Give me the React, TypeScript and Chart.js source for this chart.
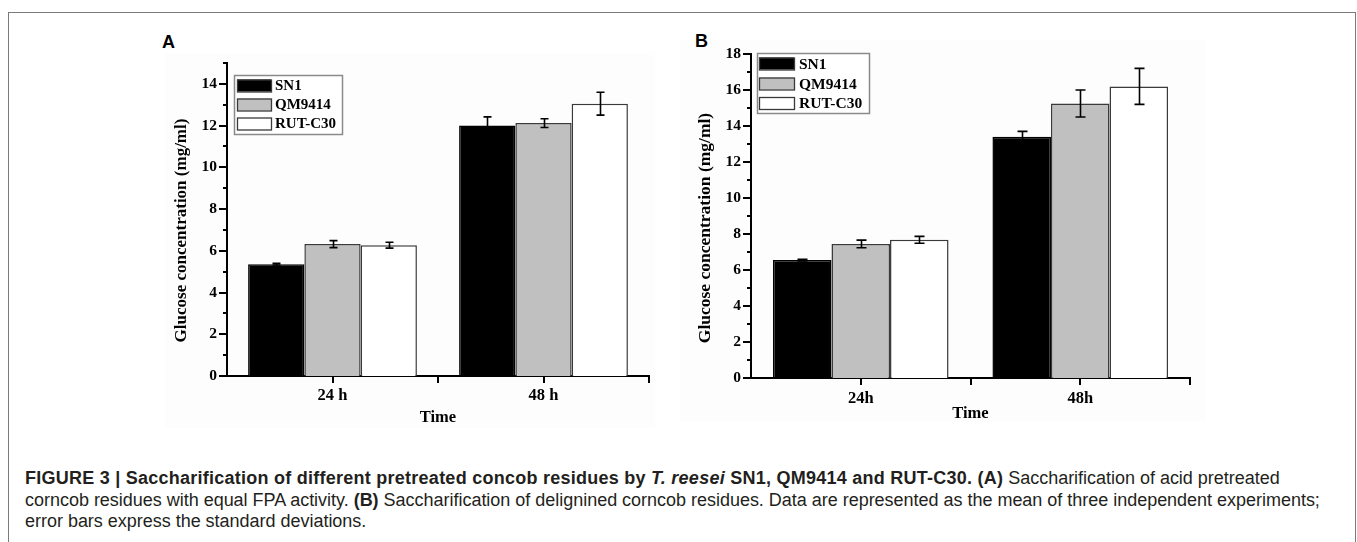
import React, { useEffect, useRef } from "react";
import { Chart, registerables } from "chart.js";

Chart.register(...registerables);

// ---------------- data ----------------
const seriesNames = ["SN1", "QM9414", "RUT-C30"];
const seriesColors = ["#000000", "#c0c0c0", "#ffffff"];
const seriesBorders = ["#000000", "#3a3a3a", "#3a3a3a"];

const categoriesA = ["24 h", "48 h"];
const sn1A = [5.36, 12.0];
const qmA = [6.32, 12.12];
const rutA = [6.27, 13.05];
const sn1ErrA = [0.04, 0.42];
const qmErrA = [0.17, 0.21];
const rutErrA = [0.14, 0.55];

const categoriesB = ["24h", "48h"];
const sn1B = [6.55, 13.4];
const qmB = [7.45, 15.25];
const rutB = [7.68, 16.2];
const sn1ErrB = [0.05, 0.3];
const qmErrB = [0.21, 0.75];
const rutErrB = [0.19, 1.0];

const yMaxA = 15;
const yMaxB = 18;
const yStep = 2;

const yTitle = "Glucose concentration (mg/ml)";
const xTitle = "Time";

const SERIF = "'Liberation Serif', 'Times New Roman', serif";
const SANS = "'Liberation Sans', Arial, Helvetica, sans-serif";

type PanelCfg = {
  canvasLeft: number;
  canvasTop: number;
  width: number;
  height: number;
  padTop: number;
  padRight: number;
  yWidth: number;
  xHeight: number;
  categories: string[];
  values: number[][];
  errors: number[][];
  yMax: number;
  yTitleX: number;
  yTitleShift: number;
  yTitleSize: number;
  xTitleOffset: number;
  xTickPad: number;
  capHalf: number;
  legend: { x: number; y: number; w: number; h: number; swX: number; swW: number; rows: number[]; textX: number; size: number };
};

function makeDecor(cfg: PanelCfg) {
  return {
    id: "decor",
    afterDatasetsDraw(chart: any) {
      const ctx = chart.ctx;
      const yScale = chart.scales.y;
      ctx.save();
      ctx.strokeStyle = "#000";
      ctx.lineWidth = 1.6;
      cfg.values.forEach((vals, i) => {
        const meta = chart.getDatasetMeta(i);
        meta.data.forEach((el: any, j: number) => {
          const v = vals[j];
          const e = cfg.errors[i][j];
          const yt = yScale.getPixelForValue(v + e);
          const yb = yScale.getPixelForValue(v - e);
          const x = Math.round(el.x) + 0.5;
          ctx.beginPath();
          ctx.moveTo(x, yt);
          ctx.lineTo(x, yb);
          ctx.moveTo(x - cfg.capHalf, yt);
          ctx.lineTo(x + cfg.capHalf, yt);
          ctx.moveTo(x - cfg.capHalf, yb);
          ctx.lineTo(x + cfg.capHalf, yb);
          ctx.stroke();
        });
      });
      ctx.restore();
    },
    afterDraw(chart: any) {
      const ctx = chart.ctx;
      const area = chart.chartArea;
      const yScale = chart.scales.y;
      const xScale = chart.scales.x;
      ctx.save();
      ctx.strokeStyle = "#000";
      ctx.lineWidth = 2;
      // y ticks: major + minor
      for (let v = 0; v <= cfg.yMax; v += 1) {
        const y = Math.round(yScale.getPixelForValue(v));
        const len = v % yStep === 0 ? 8 : 4;
        ctx.beginPath();
        ctx.moveTo(area.left - len, y);
        ctx.lineTo(area.left, y);
        ctx.stroke();
      }
      // x ticks: category centres and boundaries
      const xs: number[] = [];
      for (let i = 0; i < cfg.categories.length; i++) {
        xs.push(xScale.getPixelForValue(i));
        if (i < cfg.categories.length - 1) {
          xs.push((xScale.getPixelForValue(i) + xScale.getPixelForValue(i + 1)) / 2);
        }
      }
      xs.push(area.right);
      xs.forEach((x) => {
        const px = Math.round(x);
        ctx.beginPath();
        ctx.moveTo(px, area.bottom);
        ctx.lineTo(px, area.bottom + 7);
        ctx.stroke();
      });
      // axis titles
      ctx.fillStyle = "#000";
      ctx.textAlign = "center";
      ctx.textBaseline = "middle";
      ctx.font = `bold ${cfg.yTitleSize}px ${SERIF}`;
      ctx.save();
      ctx.translate(cfg.yTitleX, (area.top + area.bottom) / 2 + cfg.yTitleShift);
      ctx.rotate(-Math.PI / 2);
      ctx.fillText(yTitle, 0, 0);
      ctx.restore();
      ctx.font = `bold 16.5px ${SERIF}`;
      ctx.fillText(xTitle, (area.left + area.right) / 2, area.bottom + cfg.xTitleOffset);
      // legend
      const L = cfg.legend;
      ctx.fillStyle = "#ffffff";
      ctx.fillRect(L.x, L.y, L.w, L.h);
      ctx.strokeStyle = "#8a8a8a";
      ctx.lineWidth = 1.5;
      ctx.strokeRect(L.x + 0.5, L.y + 0.5, L.w, L.h);
      seriesNames.forEach((name, i) => {
        const cy = L.rows[i];
        ctx.fillStyle = seriesColors[i];
        ctx.fillRect(L.swX, cy - 6, L.swW, 12);
        ctx.strokeStyle = "#3a3a3a";
        ctx.lineWidth = 1.3;
        ctx.strokeRect(L.swX + 0.5, cy - 6 + 0.5, L.swW, 12);
        ctx.fillStyle = "#000";
        ctx.textAlign = "left";
        ctx.textBaseline = "middle";
        ctx.font = `bold ${L.size}px ${SERIF}`;
        ctx.fillText(name, L.textX, cy + 1);
      });
      ctx.restore();
    },
  };
}

function Panel({ cfg }: { cfg: PanelCfg }) {
  const ref = useRef<HTMLCanvasElement | null>(null);
  useEffect(() => {
    if (!ref.current) return;
    const chart = new Chart(ref.current, {
      type: "bar",
      data: {
        labels: cfg.categories,
        datasets: cfg.values.map((vals, i) => ({
          label: seriesNames[i],
          data: vals,
          backgroundColor: seriesColors[i],
          borderColor: seriesBorders[i],
          borderWidth: 1.5,
          categoryPercentage: 0.8,
          barPercentage: 1.0,
        })),
      },
      options: {
        animation: false,
        responsive: false,
        devicePixelRatio: 1,
        layout: { padding: { top: cfg.padTop, right: cfg.padRight, left: 0, bottom: 0 } },
        plugins: { legend: { display: false }, tooltip: { enabled: false } },
        scales: {
          x: {
            grid: { display: false, drawTicks: false },
            border: { display: true, color: "#000", width: 2 },
            ticks: {
              color: "#000",
              padding: cfg.xTickPad,
              font: { family: SERIF, weight: "bold", size: 16.5 },
            },
            afterFit: (s: any) => {
              s.height = cfg.xHeight;
            },
          },
          y: {
            min: 0,
            max: cfg.yMax,
            grid: { display: false, drawTicks: false },
            border: { display: true, color: "#000", width: 2 },
            ticks: {
              stepSize: yStep,
              includeBounds: false,
              autoSkip: false,
              color: "#000",
              padding: 10,
              font: { family: SERIF, weight: "bold", size: 15.5 },
            },
            afterFit: (s: any) => {
              s.width = cfg.yWidth;
            },
          },
        },
      },
      plugins: [makeDecor(cfg)],
    } as any);
    return () => chart.destroy();
  }, [cfg]);
  return (
    <canvas
      ref={ref}
      width={cfg.width}
      height={cfg.height}
      style={{ position: "absolute", left: cfg.canvasLeft, top: cfg.canvasTop, width: cfg.width, height: cfg.height }}
    />
  );
}

const panelA: PanelCfg = {
  canvasLeft: 140,
  canvasTop: 20,
  width: 530,
  height: 420,
  padTop: 43,
  padRight: 21,
  yWidth: 87,
  xHeight: 64,
  categories: categoriesA,
  values: [sn1A, qmA, rutA],
  errors: [sn1ErrA, qmErrA, rutErrA],
  yMax: yMaxA,
  yTitleX: 42,
  yTitleShift: 11,
  yTitleSize: 17,
  xTitleOffset: 42,
  xTickPad: 10,
  capHalf: 4,
  legend: { x: 94, y: 55, w: 108, h: 59, swX: 97, swW: 34, rows: [65.5, 84.5, 103.5], textX: 135, size: 15 },
};

const panelB: PanelCfg = {
  canvasLeft: 680,
  canvasTop: 30,
  width: 530,
  height: 410,
  padTop: 24,
  padRight: 20,
  yWidth: 71,
  xHeight: 62,
  categories: categoriesB,
  values: [sn1B, qmB, rutB],
  errors: [sn1ErrB, qmErrB, rutErrB],
  yMax: yMaxB,
  yTitleX: 25,
  yTitleShift: 12,
  yTitleSize: 17.5,
  xTitleOffset: 36,
  xTickPad: 11,
  capHalf: 5,
  legend: { x: 77, y: 23, w: 112, h: 60, swX: 79, swW: 35, rows: [33.5, 53.5, 73], textX: 119, size: 15.5 },
};

export default function App() {
  const capStyle: React.CSSProperties = {
    position: "absolute",
    left: 25,
    top: 468,
    fontFamily: SANS,
    fontSize: 18,
    lineHeight: "21.5px",
    color: "#231f20",
    whiteSpace: "nowrap",
    letterSpacing: "-0.02px",
  };
  return (
    <div style={{ position: "fixed", left: 0, top: 0, width: 1357, height: 542, background: "#fff", overflow: "hidden" }}>
      <div style={{ position: "absolute", left: 8, top: 12, width: 1348, height: 600, borderTop: "1.5px solid #7a7a7a", borderLeft: "1.5px solid #7a7a7a", borderRight: "1.5px solid #7a7a7a", boxSizing: "border-box" }} />
      <div style={{ position: "absolute", left: 165, top: 53, width: 490, height: 375, background: "#fdfdfd" }} />
      <div style={{ position: "absolute", left: 680, top: 40, width: 525, height: 382, background: "#fdfdfd" }} />
      <div style={{ position: "absolute", left: 162, top: 32, fontFamily: SANS, fontWeight: "bold", fontSize: 18, lineHeight: "20px" }}>A</div>
      <div style={{ position: "absolute", left: 695, top: 31, fontFamily: SANS, fontWeight: "bold", fontSize: 18, lineHeight: "20px" }}>B</div>
      <Panel cfg={panelA} />
      <Panel cfg={panelB} />
      <div style={capStyle}>
        <div>
          <b style={{ letterSpacing: "0.25px" }}>
            FIGURE 3 | Saccharification of different pretreated concob residues by <i>T. reesei</i> SN1, QM9414 and RUT-C30. (A)
          </b>{" "}
          Saccharification of acid pretreated
        </div>
        <div>
          corncob residues with equal FPA activity. <b>(B)</b> Saccharification of delignined corncob residues. Data are represented as the mean of three independent experiments;
        </div>
        <div>error bars express the standard deviations.</div>
      </div>
    </div>
  );
}
